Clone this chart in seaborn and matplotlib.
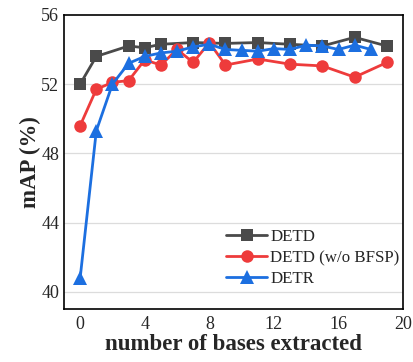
import matplotlib
matplotlib.use("Agg")
import matplotlib.pyplot as plt
import seaborn as sns
import pandas as pd

# data
detd_x = [0, 1, 3, 4, 5, 7, 9, 11, 13, 15, 17, 19]
detd_y = [52.0, 53.6, 54.2, 54.1, 54.3, 54.4, 54.35, 54.4, 54.3, 54.2, 54.7, 54.2]
wo_x = [0, 1, 2, 3, 4, 5, 6, 7, 8, 9, 11, 13, 15, 17, 19]
wo_y = [49.6, 51.7, 52.1, 52.2, 53.4, 53.1, 54.0, 53.25, 54.4, 53.1, 53.45, 53.15, 53.05, 52.4, 53.25]
detr_x = list(range(0, 19))
detr_y = [40.8, 49.3, 52.0, 53.2, 53.6, 53.8, 53.9, 54.15, 54.3, 54.0, 53.95, 53.9,
          54.05, 54.0, 54.25, 54.2, 54.0, 54.25, 54.0]
labels = ["DETD", "DETD (w/o BFSP)", "DETR"]
xticks = [0, 4, 8, 12, 16, 20]
yticks = [40, 44, 48, 52, 56]

sns.set_style("white")
plt.rcParams['font.family'] = ['Liberation Serif', 'DejaVu Serif']

fig = plt.figure(figsize=(4.13, 3.62), dpi=100)
ax = fig.add_axes([0.155, 0.146, 0.821, 0.813])

for y in yticks[:-1]:
    ax.axhline(y, color="#dcdcdc", lw=0.9, zorder=0)

sns.lineplot(x=detd_x, y=detd_y, ax=ax, color="#4a4a4a", marker="s", markersize=8,
             markeredgewidth=0, lw=2, label=labels[0])
sns.lineplot(x=wo_x, y=wo_y, ax=ax, color="#ee3b3b", marker="o", markersize=9,
             markeredgewidth=0, lw=2, label=labels[1])
sns.lineplot(x=detr_x, y=detr_y, ax=ax, color="#1c6fe0", marker="^", markersize=10,
             markeredgewidth=0, lw=2, label=labels[2])

ax.set_xlim(-1, 20)
ax.set_ylim(39, 56)
ax.set_xticks(xticks)
ax.set_yticks(yticks)
ax.tick_params(direction="in", length=4, width=1, labelsize=13, color="black")
ax.tick_params(axis="x", pad=5)
for s in ax.spines.values():
    s.set_color("black")
    s.set_linewidth(1.2)
ax.set_xlabel("number of bases extracted", fontsize=16.5, fontweight="bold", labelpad=1)
ax.set_ylabel("mAP (%)", fontsize=16.5, fontweight="bold", labelpad=0)

leg = ax.legend(loc="lower right", frameon=False, fontsize=12.2, handlelength=2.4,
                handletextpad=0.2, labelspacing=0.3, borderaxespad=0.3,
                bbox_to_anchor=(1.025, 0.035))

fig.savefig("out.png", dpi=100)
